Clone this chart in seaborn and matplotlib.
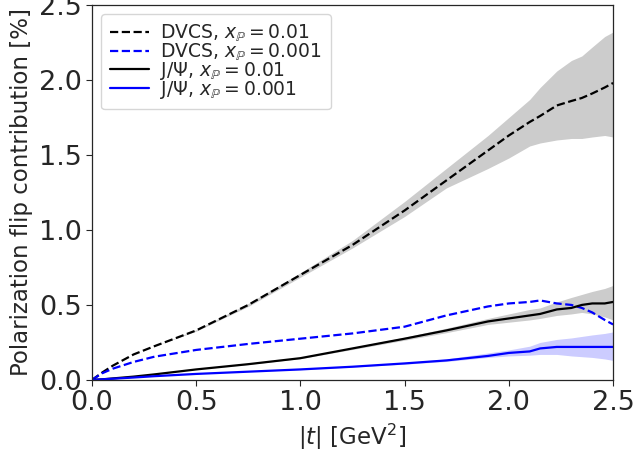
import numpy as np
import pandas as pd
import matplotlib
matplotlib.use("Agg")
import matplotlib.pyplot as plt
import seaborn as sns

# |t| grid (GeV^2) used for all curves
t_vals = [0.0, 0.05, 0.1, 0.2, 0.3, 0.5, 0.75, 1.0, 1.25, 1.5, 1.7, 1.9, 2.0, 2.1, 2.15, 2.23, 2.3, 2.35, 2.4, 2.46, 2.5]

# DVCS, x_P = 0.01 (black dashed) with band
dvcs_01 = [0.0, 0.05, 0.095, 0.17, 0.225, 0.33, 0.50, 0.70, 0.90, 1.13, 1.33, 1.53, 1.63, 1.72, 1.76, 1.83, 1.86, 1.88, 1.91, 1.95, 1.98]
dvcs_01_lo = [0.0, 0.05, 0.095, 0.17, 0.225, 0.325, 0.49, 0.685, 0.88, 1.09, 1.28, 1.41, 1.48, 1.56, 1.58, 1.60, 1.61, 1.61, 1.62, 1.63, 1.62]
dvcs_01_hi = [0.0, 0.05, 0.095, 0.17, 0.225, 0.335, 0.51, 0.715, 0.93, 1.19, 1.41, 1.63, 1.75, 1.87, 1.95, 2.06, 2.13, 2.16, 2.22, 2.29, 2.32]

# DVCS, x_P = 0.001 (blue dashed)
dvcs_001 = [0.0, 0.045, 0.075, 0.12, 0.155, 0.20, 0.24, 0.275, 0.31, 0.355, 0.43, 0.49, 0.51, 0.52, 0.53, 0.51, 0.50, 0.48, 0.45, 0.40, 0.37]

# J/Psi, x_P = 0.01 (black solid) with band
jpsi_01 = [0.0, 0.004, 0.01, 0.022, 0.037, 0.07, 0.105, 0.145, 0.21, 0.275, 0.33, 0.39, 0.41, 0.43, 0.44, 0.47, 0.48, 0.50, 0.51, 0.51, 0.52]
jpsi_01_lo = [0.0, 0.004, 0.01, 0.022, 0.037, 0.07, 0.103, 0.142, 0.203, 0.265, 0.315, 0.37, 0.385, 0.40, 0.41, 0.43, 0.44, 0.45, 0.44, 0.42, 0.40]
jpsi_01_hi = [0.0, 0.004, 0.01, 0.022, 0.037, 0.07, 0.107, 0.148, 0.217, 0.285, 0.345, 0.41, 0.44, 0.47, 0.48, 0.52, 0.55, 0.57, 0.59, 0.61, 0.63]

# J/Psi, x_P = 0.001 (blue solid) with band
jpsi_001 = [0.0, 0.004, 0.008, 0.016, 0.025, 0.04, 0.055, 0.07, 0.088, 0.11, 0.13, 0.16, 0.18, 0.19, 0.21, 0.22, 0.22, 0.22, 0.22, 0.22, 0.22]
jpsi_001_lo = [0.0, 0.004, 0.008, 0.016, 0.025, 0.04, 0.055, 0.069, 0.086, 0.105, 0.123, 0.15, 0.16, 0.165, 0.17, 0.17, 0.16, 0.155, 0.15, 0.14, 0.13]
jpsi_001_hi = [0.0, 0.004, 0.008, 0.016, 0.025, 0.04, 0.055, 0.071, 0.090, 0.115, 0.14, 0.18, 0.20, 0.225, 0.25, 0.27, 0.28, 0.29, 0.30, 0.31, 0.32]

labels = [r"DVCS, $x_{\mathbb{P}} = 0.01$", r"DVCS, $x_{\mathbb{P}} = 0.001$",
          r"J/$\Psi$, $x_{\mathbb{P}} = 0.01$", r"J/$\Psi$, $x_{\mathbb{P}} = 0.001$"]

sns.set_style("ticks")
plt.rcParams['font.family'] = ['DejaVu Sans']
plt.rcParams['mathtext.fontset'] = 'dejavusans'

fig, ax = plt.subplots(figsize=(6.34, 4.55), dpi=100)
fig.subplots_adjust(left=0.145, right=0.967, bottom=0.165, top=0.989)

ax.fill_between(t_vals, dvcs_01_lo, dvcs_01_hi, color="#cccccc", lw=0)
ax.fill_between(t_vals, jpsi_01_lo, jpsi_01_hi, color="#cccccc", lw=0)
ax.fill_between(t_vals, jpsi_001_lo, jpsi_001_hi, color="#ccccff", lw=0)

sns.lineplot(x=t_vals, y=dvcs_01, ax=ax, color="black", linestyle="--", lw=1.6, label=labels[0])
sns.lineplot(x=t_vals, y=dvcs_001, ax=ax, color="blue", linestyle="--", lw=1.6, label=labels[1])
sns.lineplot(x=t_vals, y=jpsi_01, ax=ax, color="black", lw=1.6, label=labels[2])
sns.lineplot(x=t_vals, y=jpsi_001, ax=ax, color="blue", lw=1.6, label=labels[3])

ax.set_xlim(0, 2.5)
ax.set_ylim(0, 2.5)
ax.set_xticks([0.0, 0.5, 1.0, 1.5, 2.0, 2.5])
ax.set_yticks([0.0, 0.5, 1.0, 1.5, 2.0, 2.5])
ax.tick_params(labelsize=19.5, length=4, width=0.8)
ax.set_xlabel(r"$|t|$ [GeV$^2$]", fontsize=16.5)
ax.set_ylabel("Polarization flip contribution [%]", fontsize=16.5)
for s in ax.spines.values():
    s.set_linewidth(0.9)
ax.legend(loc="upper left", fontsize=13.5, handlelength=2.1, labelspacing=-0.15,
          borderpad=0.45, handletextpad=0.6, frameon=True)

fig.savefig("out.png", dpi=100)
